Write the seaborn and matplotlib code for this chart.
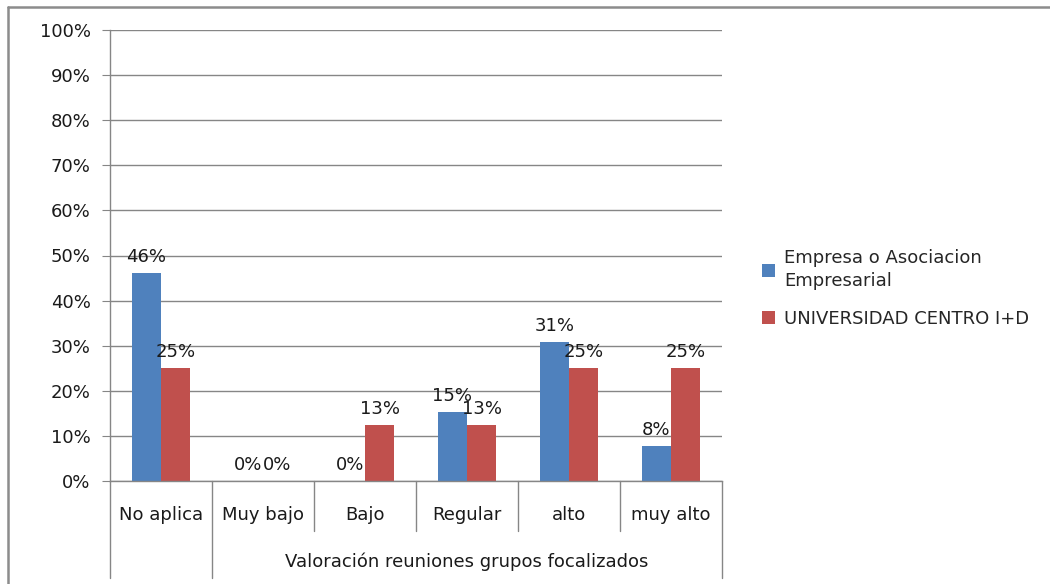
import pandas as pd
import numpy as np
import matplotlib
matplotlib.use("Agg")
import matplotlib.pyplot as plt
import matplotlib.transforms as mtransforms
from matplotlib.lines import Line2D
import seaborn as sns

# values (fractions)
categories = ['No aplica', 'Muy bajo', 'Bajo', 'Regular', 'alto', 'muy alto']
series = ['Empresa o Asociacion\nEmpresarial', 'UNIVERSIDAD CENTRO I+D']
empresa = [0.462, 0.0, 0.0, 0.154, 0.308, 0.077]
universidad = [0.25, 0.0, 0.125, 0.125, 0.25, 0.25]
colors = ['#4F81BD', '#C0504D']
x_title = 'Valoración reuniones grupos focalizados'

df = pd.DataFrame({
    'Categoria': categories * 2,
    'Serie': [series[0]] * len(categories) + [series[1]] * len(categories),
    'Valor': empresa + universidad,
})

sns.set_style("white")
plt.rcParams['font.family'] = ['DejaVu Sans']

fs = 13
txt_col = '#1a1a1a'
grid_col = '#868686'

fig = plt.figure(figsize=(10.5, 5.84), dpi=100)
ax = fig.add_axes([110 / 1050, 103 / 584, 612 / 1050, 451 / 584])

sns.barplot(data=df, x='Categoria', y='Valor', hue='Serie', order=categories,
            hue_order=series, palette=colors, width=0.57, saturation=1,
            linewidth=0, ax=ax, legend=True)

ax.set_ylim(0, 1)
ax.set_xlim(-0.5, len(categories) - 0.5)
ticks = np.arange(0, 1.01, 0.1)
ax.set_yticks(ticks)
ax.set_yticklabels([f"{int(round(t * 100))}%" for t in ticks])
ax.yaxis.grid(True, color=grid_col, linewidth=1)
ax.set_axisbelow(True)
ax.tick_params(axis='y', length=6, color=grid_col, labelsize=fs,
               labelcolor=txt_col, pad=8, left=True)
ax.tick_params(axis='x', length=0, labelsize=fs, labelcolor=txt_col, pad=18)
ax.set_xlabel('')
ax.set_ylabel('')
for s in ['top', 'right']:
    ax.spines[s].set_visible(False)
for s in ['left', 'bottom']:
    ax.spines[s].set_color(grid_col)
    ax.spines[s].set_linewidth(1)

# data labels
for cont in ax.containers:
    ax.bar_label(cont, labels=[f"{int(v * 100 + 0.5)}%" for v in cont.datavalues],
                 padding=5, fontsize=fs, color=txt_col)

# category separators below the axis (Excel multi-level axis)
trans = mtransforms.blended_transform_factory(ax.transData, ax.transAxes)
for b in np.arange(-0.5, len(categories), 1.0):
    low = -97 / 451 if b in (-0.5, 0.5, len(categories) - 0.5) else -50 / 451
    ax.plot([b, b], [0, low], color=grid_col, linewidth=1, transform=trans, clip_on=False)
ax.text(3.0, -81 / 451, x_title, transform=trans, ha='center', va='center',
        fontsize=fs, color=txt_col)

# legend
handles, labels = ax.get_legend_handles_labels()
leg = ax.legend(handles, labels, loc='upper left', bbox_to_anchor=(746 / 1050, 1 - 233 / 584),
                bbox_transform=fig.transFigure, frameon=False, fontsize=fs,
                handlelength=0.7, handleheight=0.7, handletextpad=0.5, labelspacing=1.1)
for t in leg.get_texts():
    t.set_linespacing(1.35)

# chart border (only top and left visible)
fig.lines.append(Line2D([8 / 1050, 1], [1 - 6.5 / 584, 1 - 6.5 / 584], transform=fig.transFigure,
                        color='#8c8c8c', linewidth=1.8))
fig.lines.append(Line2D([8 / 1050, 8 / 1050], [0, 1 - 6.5 / 584], transform=fig.transFigure,
                        color='#8c8c8c', linewidth=1.8))

fig.savefig('out.png', dpi=100)
